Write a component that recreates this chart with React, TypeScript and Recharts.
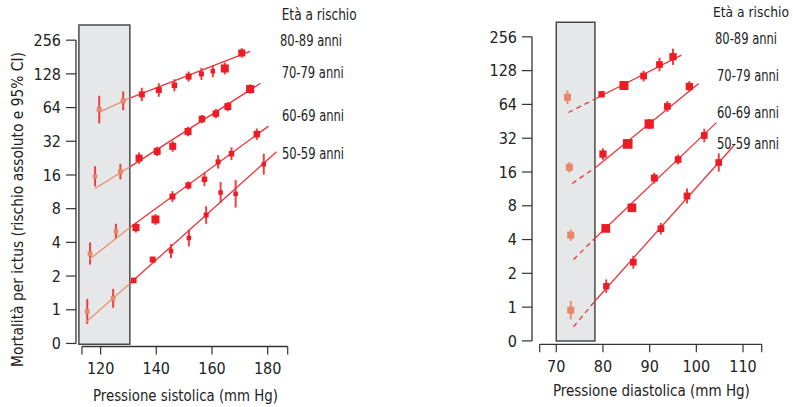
import React from 'react';
import { ScatterChart, Scatter, XAxis, YAxis, ErrorBar, ReferenceArea, ReferenceLine } from 'recharts';

// ---------- Data (y values are log2 of stroke mortality; "0" tick = 0.5) ----------
const ageGroups = ['80-89 anni', '70-79 anni', '60-69 anni', '50-59 anni'];
const yTicks = [-1, 0, 1, 2, 3, 4, 5, 6, 7, 8];

// Left panel: systolic pressure (mm Hg)
const sysTicks = [120, 140, 160, 180];
const sysAxisEnds = [113.3, 187.2];
const sysBoxRange = [112.2, 130.5];

const sys80Box = [{ x: 119.5, y: 5.94, e: 0.41, w: 5 }, { x: 128.1, y: 6.2, e: 0.28, w: 5 }];
const sys80 = [
  { x: 134.8, y: 6.39, e: 0.2, w: 6 }, { x: 140.9, y: 6.52, e: 0.2, w: 6 },
  { x: 146.5, y: 6.66, e: 0.18, w: 5.5 }, { x: 151.6, y: 6.92, e: 0.15, w: 6 },
  { x: 156.2, y: 7.0, e: 0.18, w: 5 }, { x: 160.3, y: 7.08, e: 0.18, w: 4.5 },
  { x: 164.6, y: 7.16, e: 0.18, w: 8 }, { x: 170.7, y: 7.62, e: 0.14, w: 7 },
];
const sys70Box = [{ x: 118.0, y: 3.96, e: 0.3, w: 4.5 }, { x: 127.1, y: 4.1, e: 0.23, w: 5 }];
const sys70 = [
  { x: 133.8, y: 4.5, e: 0.17, w: 7 }, { x: 140.3, y: 4.7, e: 0.14, w: 7 },
  { x: 145.9, y: 4.85, e: 0.16, w: 7 }, { x: 151.4, y: 5.29, e: 0.14, w: 7 },
  { x: 156.4, y: 5.66, e: 0.12, w: 6.5 }, { x: 161.4, y: 5.82, e: 0.14, w: 6.5 },
  { x: 165.7, y: 6.03, e: 0.14, w: 7 }, { x: 173.7, y: 6.55, e: 0.14, w: 8 },
];
const sys60Box = [{ x: 116.2, y: 1.67, e: 0.33, w: 4.7 }, { x: 125.5, y: 2.33, e: 0.22, w: 4.5 }];
const sys60 = [
  { x: 132.7, y: 2.44, e: 0.15, w: 7 }, { x: 139.7, y: 2.68, e: 0.16, w: 8 },
  { x: 145.8, y: 3.36, e: 0.16, w: 6 }, { x: 151.5, y: 3.69, e: 0.12, w: 6 },
  { x: 157.3, y: 3.87, e: 0.2, w: 5.5 }, { x: 162.2, y: 4.39, e: 0.2, w: 5 },
  { x: 167.0, y: 4.63, e: 0.19, w: 5.5 }, { x: 176.1, y: 5.21, e: 0.17, w: 6.5 },
];
const sys50Box = [{ x: 115.2, y: -0.05, e: 0.37, w: 4.7 }, { x: 124.5, y: 0.34, e: 0.28, w: 4.7 }];
const sys50 = [
  { x: 131.9, y: 0.87, e: 0.05, w: 5.7 }, { x: 138.7, y: 1.49, e: 0.08, w: 6 },
  { x: 145.3, y: 1.74, e: 0.21, w: 4.5 }, { x: 151.7, y: 2.13, e: 0.25, w: 4.5 },
  { x: 157.9, y: 2.81, e: 0.26, w: 5 }, { x: 163.1, y: 3.48, e: 0.31, w: 4.5 },
  { x: 168.5, y: 3.44, e: 0.41, w: 4.5 }, { x: 178.6, y: 4.32, e: 0.31, w: 4.5 },
];
const sys80FitBox = [{ x: 119.75, y: 5.87 }, { x: 130.5, y: 6.28 }];
const sys80Fit = [{ x: 130.5, y: 6.28 }, { x: 173.7, y: 7.67 }];
const sys70FitBox = [{ x: 118.0, y: 3.6 }, { x: 130.5, y: 4.24 }];
const sys70Fit = [{ x: 130.5, y: 4.24 }, { x: 177.4, y: 6.72 }];
const sys60FitBox = [{ x: 115.9, y: 1.49 }, { x: 130.5, y: 2.44 }];
const sys60Fit = [{ x: 130.5, y: 2.44 }, { x: 180.3, y: 5.45 }];
const sys50FitBox = [{ x: 114.6, y: -0.38 }, { x: 130.5, y: 0.78 }];
const sys50Fit = [{ x: 130.5, y: 0.78 }, { x: 183.2, y: 4.69 }];

// Right panel: diastolic pressure (mm Hg)
const diaTicks = [70, 80, 90, 100, 110];
const diaAxisEnds = [66.45, 114.0];
const diaBoxRange = [70.0, 78.28];

const dia80Box = [{ x: 72.4, y: 6.21, e: 0.2, w: 7 }];
const dia80 = [
  { x: 79.7, y: 6.3, e: 0.08, w: 6.3 }, { x: 84.5, y: 6.56, e: 0.08, w: 9 },
  { x: 88.7, y: 6.84, e: 0.16, w: 6.7 }, { x: 92.1, y: 7.18, e: 0.2, w: 6.7 },
  { x: 95.0, y: 7.41, e: 0.24, w: 7.3 },
];
const dia70Box = [{ x: 72.8, y: 4.14, e: 0.15, w: 7 }];
const dia70 = [
  { x: 80.0, y: 4.53, e: 0.17, w: 7.3 }, { x: 85.3, y: 4.83, e: 0.08, w: 9.7 },
  { x: 89.9, y: 5.42, e: 0.15, w: 9.3 }, { x: 93.8, y: 5.94, e: 0.16, w: 6.7 },
  { x: 98.5, y: 6.53, e: 0.16, w: 7.3 },
];
const dia60Box = [{ x: 73.1, y: 2.13, e: 0.17, w: 7 }];
const dia60 = [
  { x: 80.6, y: 2.33, e: 0.1, w: 8.7 }, { x: 86.2, y: 2.94, e: 0.1, w: 8.7 },
  { x: 91.0, y: 3.82, e: 0.16, w: 7 }, { x: 96.1, y: 4.37, e: 0.15, w: 6.7 },
  { x: 101.7, y: 5.08, e: 0.2, w: 6.7 },
];
const dia50Box = [{ x: 73.1, y: -0.09, e: 0.27, w: 7 }];
const dia50 = [
  { x: 80.7, y: 0.62, e: 0.2, w: 6.3 }, { x: 86.5, y: 1.33, e: 0.19, w: 6.7 },
  { x: 92.4, y: 2.32, e: 0.17, w: 6.7 }, { x: 98.0, y: 3.29, e: 0.22, w: 6.7 },
  { x: 104.8, y: 4.28, e: 0.27, w: 6.7 },
];
const dia80FitBox = [{ x: 72.6, y: 5.76 }, { x: 78.28, y: 6.16 }];
const dia80Fit = [{ x: 78.28, y: 6.16 }, { x: 96.8, y: 7.46 }];
const dia70FitBox = [{ x: 73.4, y: 3.66 }, { x: 78.28, y: 4.12 }];
const dia70Fit = [{ x: 78.28, y: 4.12 }, { x: 100.5, y: 6.62 }];
const dia60FitBox = [{ x: 73.7, y: 1.41 }, { x: 78.28, y: 2.04 }];
const dia60Fit = [{ x: 78.28, y: 2.04 }, { x: 104.3, y: 5.46 }];
const dia50FitBox = [{ x: 73.7, y: -0.58 }, { x: 78.28, y: 0.18 }];
const dia50Fit = [{ x: 78.28, y: 0.18 }, { x: 108.1, y: 4.79 }];

// ---------- Styles ----------
const FONT = "'DejaVu Sans Condensed', 'Liberation Sans Narrow', 'Liberation Sans', Arial, sans-serif";
const RED = '#ED1C24';
const SALMON = '#E8866A';
const ERR = '#EE3F45';
const FIT = '#EE3338';
const FIT_BOX = '#E99072';
const AXIS = '#333333';
const TEXT = '#222222';

const makeSquare = (color: string) => (props: any) => {
  const { cx, cy, payload } = props;
  if (cx == null || cy == null) return <g />;
  const s = payload.w;
  return <rect x={cx - s / 2} y={cy - s / 2} width={s} height={s} fill={color} />;
};
const noShape = () => <g />;
const redSquare = makeSquare(RED);
const salmonSquare = makeSquare(SALMON);

const yFmt = (v: number) => (v < 0 ? '0' : String(Math.pow(2, v)));

type Group = { box: any[]; pts: any[]; fitBox: any[]; fit: any[] };

function Panel(props: {
  groups: Group[]; left: number; width: number; xDomain: number[]; yDomain: number[];
  marginTop: number; marginRight: number; marginBottom: number;
  xTicks: number[]; axisEnds: number[]; boxRange: number[]; boxY: number[]; dashed: boolean;
}) {
  const { groups, xDomain, yDomain, xTicks, axisEnds, boxRange, boxY, dashed } = props;
  const allTicks = [axisEnds[0], ...xTicks, axisEnds[1]];
  const xFmt = (v: number) => (xTicks.includes(v) ? String(v) : '');
  const tickStyle = { fontSize: 16, fill: TEXT, fontFamily: FONT };
  return (
    <div style={{ position: 'absolute', left: props.left, top: 0 }}>
      <ScatterChart
        width={props.width}
        height={407}
        margin={{ top: props.marginTop, right: props.marginRight, bottom: props.marginBottom, left: 0 }}
      >
        <XAxis
          type="number" dataKey="x" domain={xDomain} allowDataOverflow ticks={allTicks} interval={0}
          tickFormatter={xFmt} axisLine={false} tickLine={{ stroke: AXIS, strokeWidth: 1.2 }}
          tickSize={8} tickMargin={8} height={40} tick={tickStyle}
        />
        <YAxis
          type="number" dataKey="y" domain={yDomain} allowDataOverflow ticks={yTicks} interval={0}
          tickFormatter={yFmt} axisLine={false} tickLine={{ stroke: AXIS, strokeWidth: 1.2 }}
          tickSize={10} tickMargin={5} width={76} tick={tickStyle}
        />
        <ReferenceArea
          x1={boxRange[0]} x2={boxRange[1]} y1={boxY[0]} y2={boxY[1]} ifOverflow="visible"
          fill="#E6E7E8" fillOpacity={1} stroke="#4A4A4A" strokeWidth={1.5}
        />
        {groups.map((g, i) => (
          <Scatter
            key={'fb' + i} data={g.fitBox} shape={noShape} isAnimationActive={false}
            line={dashed ? { stroke: FIT, strokeWidth: 1.3, strokeDasharray: '5 4' } : { stroke: FIT_BOX, strokeWidth: 1.3 }}
          />
        ))}
        {groups.map((g, i) => (
          <Scatter key={'f' + i} data={g.fit} shape={noShape} isAnimationActive={false}
            line={{ stroke: FIT, strokeWidth: 1.3 }} />
        ))}
        {groups.map((g, i) => (
          <Scatter key={'pb' + i} data={g.box} shape={salmonSquare} isAnimationActive={false}>
            <ErrorBar dataKey="e" direction="y" width={0} stroke={dashed ? '#EE8A70' : ERR} strokeWidth={2} isAnimationActive={false} />
          </Scatter>
        ))}
        {groups.map((g, i) => (
          <Scatter key={'p' + i} data={g.pts} shape={redSquare} isAnimationActive={false}>
            <ErrorBar dataKey="e" direction="y" width={0} stroke={ERR} strokeWidth={2} isAnimationActive={false} />
          </Scatter>
        ))}
        <ReferenceLine
          segment={[{ x: xDomain[0], y: yTicks[0] }, { x: xDomain[0], y: yTicks[yTicks.length - 1] }]}
          stroke={AXIS} strokeWidth={1.3} ifOverflow="visible"
        />
        <ReferenceLine
          segment={[{ x: axisEnds[0], y: yDomain[0] }, { x: axisEnds[1], y: yDomain[0] }]}
          stroke={AXIS} strokeWidth={1.3} ifOverflow="visible"
        />
      </ScatterChart>
    </div>
  );
}

const sysGroups: Group[] = [
  { box: sys80Box, pts: sys80, fitBox: sys80FitBox, fit: sys80Fit },
  { box: sys70Box, pts: sys70, fitBox: sys70FitBox, fit: sys70Fit },
  { box: sys60Box, pts: sys60, fitBox: sys60FitBox, fit: sys60Fit },
  { box: sys50Box, pts: sys50, fitBox: sys50FitBox, fit: sys50Fit },
];
const diaGroups: Group[] = [
  { box: dia80Box, pts: dia80, fitBox: dia80FitBox, fit: dia80Fit },
  { box: dia70Box, pts: dia70, fitBox: dia70FitBox, fit: dia70Fit },
  { box: dia60Box, pts: dia60, fitBox: dia60FitBox, fit: dia60Fit },
  { box: dia50Box, pts: dia50, fitBox: dia50FitBox, fit: dia50Fit },
];

const legendTitle = 'Età a rischio';
const leftLegendPos = [[280, 45.5], [281.7, 77.7], [282, 120.7], [282, 159]];
const rightLegendPos = [[715, 44.3], [717, 81], [717, 117.7], [717, 149.3]];

export default function App() {
  const txt = { fontFamily: FONT, fontSize: 16, fill: TEXT, lengthAdjust: 'spacingAndGlyphs' } as any;
  return (
    <div style={{ position: 'absolute', left: 0, top: 0, width: 793, height: 407, background: '#fff', overflow: 'hidden' }}>
      <Panel
        groups={sysGroups} left={0} width={300} xDomain={[111.16, 187.2]} yDomain={[-1.09, 8.45]}
        marginTop={25} marginRight={12.3} marginBottom={20.5}
        xTicks={sysTicks} axisEnds={sysAxisEnds} boxRange={sysBoxRange} boxY={[-1.02, 8.45]} dashed={false}
      />
      <Panel
        groups={diaGroups} left={456} width={320} xDomain={[64.8, 114.0]} yDomain={[-1.1, 8.43]}
        marginTop={22.3} marginRight={14.3} marginBottom={22.7}
        xTicks={diaTicks} axisEnds={diaAxisEnds} boxRange={diaBoxRange} boxY={[-1.0, 8.43]} dashed={true}
      />
      <svg width={793} height={407} style={{ position: 'absolute', left: 0, top: 0, pointerEvents: 'none' }}>
        <text {...txt} transform="translate(23,209.5) rotate(-90)" textAnchor="middle" textLength={315}>
          Mortalità per ictus (rischio assoluto e 95% CI)
        </text>
        <text {...txt} x={185.5} y={401} textAnchor="middle" textLength={185}>Pressione sistolica (mm Hg)</text>
        <text {...txt} x={651.4} y={396} textAnchor="middle" textLength={197}>Pressione diastolica (mm Hg)</text>
        <text {...txt} x={281.7} y={20} textLength={75}>{legendTitle}</text>
        {ageGroups.map((a, i) => (
          <text key={'l' + i} {...txt} x={leftLegendPos[i][0]} y={leftLegendPos[i][1]} textLength={62}>{a}</text>
        ))}
        <text {...txt} x={713} y={16.7} fontSize={14} textLength={76}>{legendTitle}</text>
        {ageGroups.map((a, i) => (
          <text key={'r' + i} {...txt} x={rightLegendPos[i][0]} y={rightLegendPos[i][1]} textLength={62}>{a}</text>
        ))}
      </svg>
    </div>
  );
}
